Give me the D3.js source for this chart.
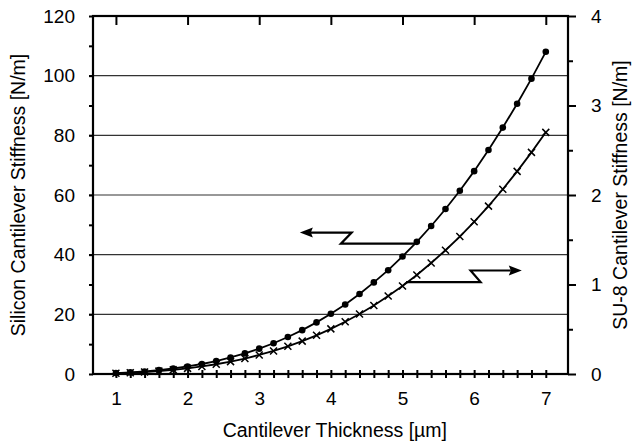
<!DOCTYPE html>
<html><head><meta charset="utf-8">
<script src="https://cdn.jsdelivr.net/npm/d3@7"></script>
<style>body{margin:0;background:#fff}svg{display:block}text{font-family:"Liberation Sans",Arial,sans-serif;fill:#000}</style>
</head><body><svg id="c" width="633" height="445"></svg>
<script>
const thickness = [1,1.2,1.4,1.6,1.8,2,2.2,2.4,2.6,2.8,3,3.2,3.4,3.6,3.8,4,4.2,4.4,4.6,4.8,5,5.2,5.4,5.6,5.8,6,6.2,6.4,6.6,6.8,7];
const silicon = [0.31,0.54,0.86,1.29,1.84,2.52,3.35,4.35,5.54,6.91,8.5,10.3,12.4,14.7,17.3,20.2,23.3,26.8,30.7,34.8,39.4,44.3,49.6,55.3,61.4,68.0,75.1,82.6,90.6,99.0,108.0];
const su8 = [0.008,0.014,0.022,0.032,0.046,0.063,0.084,0.109,0.138,0.173,0.213,0.258,0.309,0.367,0.432,0.504,0.583,0.671,0.766,0.871,0.984,1.107,1.240,1.383,1.536,1.701,1.876,2.064,2.264,2.476,2.70];
const xTicks = [1,2,3,4,5,6,7];
const leftTicks = [0,20,40,60,80,100,120];
const rightTicks = [0,1,2,3,4];
// annotation arrows in data units (x, left-axis y)
const leftArrow = [[5.2,43.7],[4.14,43.7],[4.29,47.4],[3.567,47.4]];
const rightArrow = [[5.05,30.8],[6.09,30.8],[5.95,34.7],[6.665,34.7]];

const svg = d3.select("#c");
const L=93,R=568,T=16,B=374;
const x = d3.scaleLinear().domain([0.68,7.31]).range([L,R]);
const yL = d3.scaleLinear().domain([0,120]).range([B,T]);
const yR = d3.scaleLinear().domain([0,4]).range([B,T]);

// gridlines
svg.append("g").selectAll("line").data(leftTicks.filter(d=>d>0&&d<120)).join("line")
  .attr("x1",L-4).attr("x2",R).attr("y1",d=>yL(d)).attr("y2",d=>yL(d))
  .attr("stroke","#333").attr("stroke-width",1.2);

// left axis
const gl = svg.append("g").attr("transform",`translate(${L},0)`)
  .call(d3.axisLeft(yL).tickValues(leftTicks).tickSize(4).tickPadding(14).tickFormat(d3.format("d")));
gl.append("g").call(d3.axisLeft(yL).tickValues(d3.range(10,120,20)).tickSize(4).tickFormat(""));
// right axis
const gr = svg.append("g").attr("transform",`translate(${R},0)`)
  .call(d3.axisRight(yR).tickValues(rightTicks).tickSize(8).tickPadding(15).tickFormat(d3.format("d")));
gr.append("g").call(d3.axisRight(yR).tickValues(d3.range(0.5,4,1)).tickSize(5).tickFormat(""));
// bottom axis
const gb = svg.append("g").attr("transform",`translate(0,${B})`)
  .call(d3.axisBottom(x).tickValues(xTicks).tickSize(0).tickPadding(18).tickFormat(d3.format("d")));
gb.append("g").call(d3.axisBottom(x).tickValues(thickness).tickSize(4).tickFormat(""));
gb.append("g").call(d3.axisTop(x).tickValues(thickness).tickSize(4).tickFormat(""));
// top axis
const gt = svg.append("g").attr("transform",`translate(0,${T})`)
  .call(d3.axisBottom(x).tickValues(xTicks).tickSize(9).tickFormat(""));

svg.selectAll(".domain").remove();
svg.selectAll(".tick line").attr("stroke","#000").attr("stroke-width",2);
svg.selectAll(".tick text").style("font-size","19px").style("font-family",'"Liberation Sans",Arial,sans-serif');

// frame
svg.append("rect").attr("x",L).attr("y",T).attr("width",R-L).attr("height",B-T)
  .attr("fill","none").attr("stroke","#000").attr("stroke-width",2.2);

// series
const line = d3.line();
svg.append("path").attr("d",line(thickness.map((t,i)=>[x(t),yL(silicon[i])])))
  .attr("fill","none").attr("stroke","#000").attr("stroke-width",1.8);
svg.append("path").attr("d",line(thickness.map((t,i)=>[x(t),yR(su8[i])])))
  .attr("fill","none").attr("stroke","#000").attr("stroke-width",1.8);
svg.append("g").selectAll("circle").data(thickness).join("circle")
  .attr("cx",d=>x(d)).attr("cy",(d,i)=>yL(silicon[i])).attr("r",3.3).attr("fill","#000");
svg.append("g").selectAll("path").data(thickness).join("path")
  .attr("transform",(d,i)=>`translate(${x(d)},${yR(su8[i])})`)
  .attr("d","M-3.5,-3.5L3.5,3.5M-3.5,3.5L3.5,-3.5").attr("stroke","#000").attr("stroke-width",1.5);

// arrows
const arrow = (pts)=>{
  const p = pts.map(([a,b])=>[x(a),yL(b)]);
  const n=p.length, tip=p[n-1], prev=p[n-2];
  const dir = Math.sign(tip[0]-prev[0]);
  const base = tip[0]-dir*13;
  const q = p.slice(0,n-1).concat([[base+dir*2,tip[1]]]);
  svg.append("path").attr("d",d3.line()(q)).attr("fill","none").attr("stroke","#000").attr("stroke-width",2.2);
  svg.append("path").attr("d",`M${tip[0]},${tip[1]}L${base},${tip[1]-5}L${base+dir*2},${tip[1]}L${base},${tip[1]+5}Z`).attr("fill","#000");
};
arrow(leftArrow); arrow(rightArrow);

// titles
svg.append("text").attr("x",(x(1)+x(7))/2+4).attr("y",437).attr("text-anchor","middle")
  .style("font-size","19.5px").text("Cantilever Thickness [µm]");
svg.append("text").attr("transform",`translate(25,${(T+B)/2}) rotate(-90)`).attr("text-anchor","middle")
  .style("font-size","19.5px").text("Silicon Cantilever Stiffness [N/m]");
svg.append("text").attr("transform",`translate(627,${(T+B)/2}) rotate(-90)`).attr("text-anchor","middle")
  .style("font-size","19.5px").text("SU-8 Cantilever Stiffness [N/m]");
</script></body></html>
